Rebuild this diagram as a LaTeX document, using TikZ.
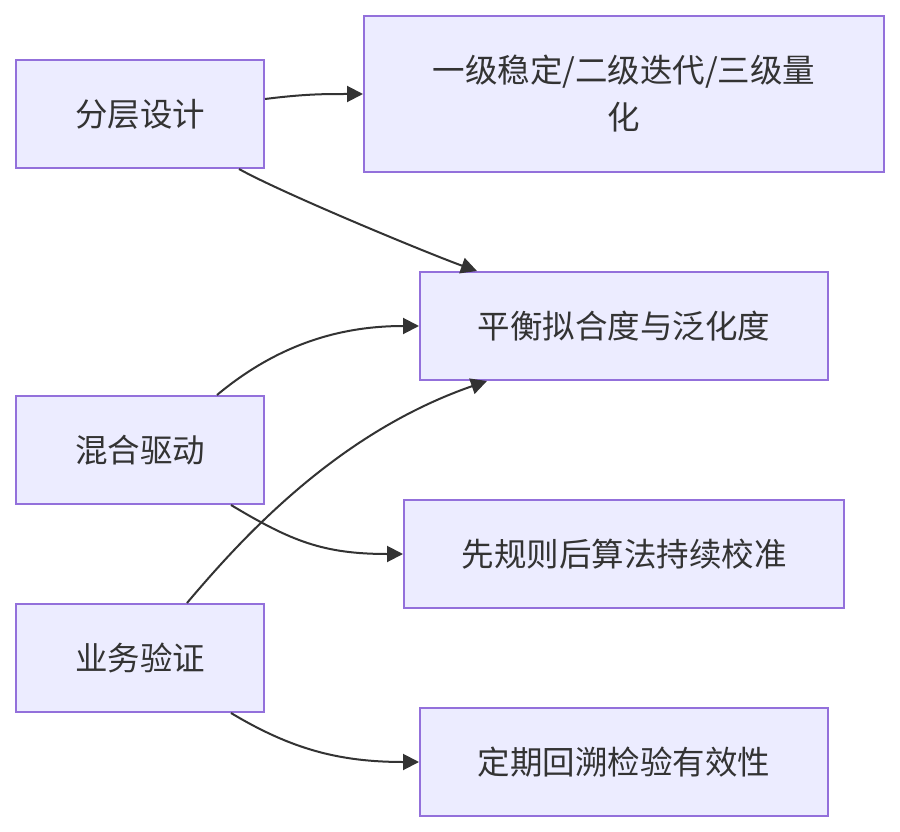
\documentclass[tikz,border=0pt]{standalone}
\usepackage{fontspec}
\newfontfamily\cjkfont{Noto Sans CJK SC}
\usepackage{tikz}
\usetikzlibrary{arrows.meta}
\definecolor{mFill}{HTML}{ECECFF}
\definecolor{mBorder}{HTML}{9370DB}
\definecolor{mLine}{HTML}{333333}
\newcommand{\flownode}[5]{%
 \node[draw=mBorder, fill=mFill, line width=2pt, minimum width=#4pt, minimum height=#5pt, inner sep=0pt, align=center, font=\cjkfont\fontsize{32.5}{47}\selectfont, text=mLine] (#1) at (#2) {#3};}
\tikzset{flow/.style={-{Triangle[length=16pt,width=16pt]}, mLine, line width=2pt}}

\begin{document}
\begin{tikzpicture}[x=1pt, y=-1pt]
\fill[white] (0,0) rectangle (900,832);
\useasboundingbox (0,0) rectangle (900,832);
\flownode{layer}{140,114}{分层设计}{248}{108}
\flownode{levels}{624,94}{一级稳定/二级迭代/三级量\\化}{520}{156}
\flownode{balance}{624,326}{平衡拟合度与泛化度}{408}{108}
\flownode{hybrid}{140,450}{混合驱动}{248}{108}
\flownode{rules}{624,554}{先规则后算法持续校准}{440}{108}
\flownode{verify}{140,658}{业务验证}{248}{108}
\flownode{backtest}{624,762}{定期回溯检验有效性}{408}{108}
\draw[flow] ([yshift=15pt]layer.east) .. controls +(40,-5) and +(-40,0) .. (levels.west);
\draw[flow] ([xshift=-26pt]layer.south east) .. controls +(45,25) and +(-45,-16) .. ([xshift=58pt]balance.north west);
\draw[flow] ([xshift=-48pt]hybrid.north east) .. controls +(60,-50) and +(-80,0) .. (balance.west);
\draw[flow] ([xshift=-34pt]hybrid.south east) .. controls +(60,36) and +(-80,0) .. (rules.west);
\draw[flow] ([xshift=-78pt]verify.north east) .. controls +(55,-65) and +(-150,52) .. ([xshift=68pt]balance.south west);
\draw[flow] ([xshift=-34pt]verify.south east) .. controls +(60,36) and +(-80,0) .. (backtest.west);
\end{tikzpicture}
\end{document}
